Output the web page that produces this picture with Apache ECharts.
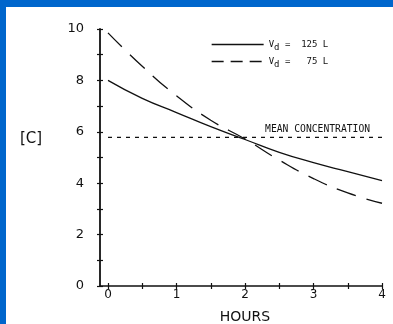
<!DOCTYPE html>
<html lang="en">
<head>
    <meta charset="UTF-8">
    <title>Concentration vs hours</title>
    <style>
        body { margin: 0; background: #fff; }
        #main {
            width: 387px; height: 317px;
            border-top: 7px solid #0066cc;
            border-left: 6px solid #0066cc;
        }
    </style>
</head>
<body>
<div id="main"></div>
<script src="https://cdn.jsdelivr.net/npm/echarts@6/dist/echarts.min.js"></script>
<script type="text/javascript">
    // hours on the x axis
    var hours = [0, 0.5, 1, 1.5, 2, 2.5, 3, 3.5, 4];
    // Vd = 125 L (solid)
    var conc125 = [8.0, 7.3, 6.75, 6.2, 5.7, 5.2, 4.8, 4.45, 4.1];
    // Vd = 75 L (dashed)
    var conc75 = [9.85, 8.55, 7.4, 6.45, 5.72, 4.9, 4.18, 3.62, 3.22];
    // mean concentration level, drawn across the plot
    var meanLevel = 5.78;
    var meanSpan = [0, 4.12];

    function pairs(xs, ys) {
        var out = [];
        for (var i = 0; i < xs.length; i++) out.push([xs[i], ys[i]]);
        return out;
    }

    var hand = 'DejaVu Sans';
    var mono = 'DejaVu Sans Mono';
    var vdLabel = function (name) {
        var n = name === 'v125' ? '125' : ' 75';
        return '{v|V}{d|d}{v| =  ' + n + ' L}';
    };
    var ink = '#111';

    var chart = echarts.init(document.getElementById('main'));
    chart.setOption({
        animation: false,
        title: {
            text: '[C]',
            left: 9, top: 120,
            textStyle: { fontFamily: hand, fontSize: 15, fontWeight: 'normal', color: ink }
        },
        legend: {
            orient: 'vertical',
            left: 200, top: 28,
            itemWidth: 52, itemHeight: 10,
            itemGap: 5,
            data: [
                { name: 'v125', lineStyle: { type: 'solid', width: 1.3, color: ink } },
                { name: 'v75', lineStyle: { type: [12, 7], width: 1.3, color: ink } }
            ],
            formatter: vdLabel,
            itemStyle: { opacity: 0 },
            textStyle: {
                rich: {
                    v: { fontFamily: mono, fontSize: 9, color: ink },
                    d: { fontFamily: mono, fontSize: 9, color: ink, padding: [6, 0, 0, 0] }
                }
            }
        },
        grid: [
            { left: 102, right: 11, top: 22, bottom: 38, outerBoundsMode: 'none' },
            { left: 94, right: 11, top: 22, bottom: 38, outerBoundsMode: 'none' }
        ],
        xAxis: [{
            type: 'value', min: 0, max: 4, interval: 0.5,
            name: 'HOURS', nameLocation: 'middle', nameGap: 24,
            nameTextStyle: { fontFamily: hand, fontSize: 14, color: ink },
            splitLine: { show: false },
            axisLine: { show: false, onZero: false },
            axisTick: { length: 3, lineStyle: { color: ink, width: 1.2 } },
            axisLabel: {
                margin: 3, fontFamily: hand, fontSize: 12, color: ink,
                formatter: function (v) { return v % 1 === 0 ? v : ''; }
            }
        }, {
            type: 'value', min: 0, max: 4, interval: 0.5, position: 'bottom',
            splitLine: { show: false },
            axisLine: { show: false, onZero: false },
            axisTick: { inside: true, length: 3, lineStyle: { color: ink, width: 1.2 } },
            axisLabel: { show: false }
        }, {
            // bare axis line running from the y axis
            gridIndex: 1, type: 'value', min: 0, max: 4,
            splitLine: { show: false },
            axisLine: { show: true, onZero: false, lineStyle: { color: ink, width: 1.5 } },
            axisTick: { show: false },
            axisLabel: { show: false }
        }],
        yAxis: [{
            type: 'value', min: 0, max: 10, interval: 1, offset: 8,
            splitLine: { show: false },
            axisLine: { show: true, onZero: false, lineStyle: { color: ink, width: 1.8 } },
            axisTick: { show: true, length: 3, lineStyle: { color: ink, width: 1.2 } },
            axisLabel: {
                margin: 16, fontFamily: hand, fontSize: 13, color: ink,
                formatter: function (v) { return v % 2 === 0 ? v : ''; }
            }
        }, {
            type: 'value', min: 0, max: 10, interval: 1, offset: 8, position: 'left',
            splitLine: { show: false },
            axisLine: { show: false, onZero: false },
            axisTick: { show: true, inside: true, length: 3, lineStyle: { color: ink, width: 1.2 } },
            axisLabel: { show: false }
        }, {
            gridIndex: 1, type: 'value', min: 0, max: 10, show: false
        }],
        series: [{
            name: 'v125', type: 'line', smooth: true, symbol: 'none',
            data: pairs(hours, conc125),
            lineStyle: { color: ink, width: 1.3 },
            itemStyle: { color: ink }
        }, {
            name: 'v75', type: 'line', smooth: true, symbol: 'none',
            data: pairs(hours, conc75),
            lineStyle: { color: ink, width: 1.3, type: [20, 11] },
            itemStyle: { color: ink }
        }, {
            name: 'mean', type: 'line', symbol: 'none', clip: false,
            data: [[meanSpan[0], meanLevel], [meanSpan[1], meanLevel]],
            lineStyle: { color: ink, width: 1.2, type: [4, 5] },
            markPoint: {
                symbol: 'rect', symbolSize: 0,
                data: [{ coord: [3.06, meanLevel] }],
                label: {
                    show: true, formatter: 'MEAN CONCENTRATION', offset: [0, -8],
                    fontFamily: mono, fontSize: 9.7, color: ink
                }
            }
        }]
    });
</script>
</body>
</html>
